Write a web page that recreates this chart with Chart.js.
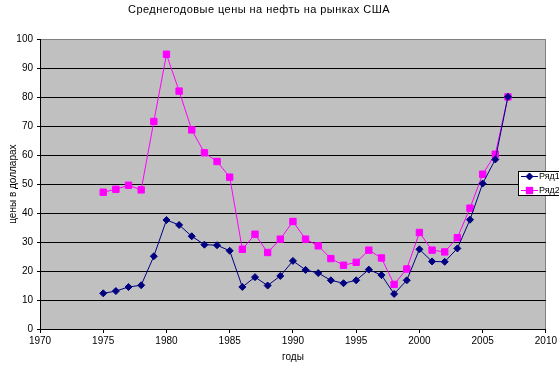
<!DOCTYPE html>
<html lang="ru">
<head>
    <meta charset="UTF-8">
    <title>Среднегодовые цены на нефть</title>
    <script src="https://cdn.jsdelivr.net/npm/chart.js"></script>
    <style>
        body { margin: 0; background: #fff; }
    </style>
</head>
<body>
<canvas id="oilChart" width="559" height="365"></canvas>

<script>
    const years = [1975, 1976, 1977, 1978, 1979, 1980, 1981, 1982, 1983, 1984, 1985,
                   1986, 1987, 1988, 1989, 1990, 1991, 1992, 1993, 1994, 1995, 1996,
                   1997, 1998, 1999, 2000, 2001, 2002, 2003, 2004, 2005, 2006, 2007];
    const ryad1 = [12.3, 13.1, 14.5, 15.1, 25.1, 37.6, 35.9, 32.0, 29.1, 28.9, 27.0,
                   14.5, 17.9, 15.0, 18.3, 23.5, 20.4, 19.3, 16.8, 15.8, 16.8, 20.5,
                   18.6, 12.1, 16.8, 27.5, 23.3, 23.2, 27.8, 37.7, 50.2, 58.5, 80.1];
    const ryad2 = [47.2, 48.2, 49.6, 48.0, 71.6, 94.8, 82.1, 68.7, 60.8, 57.8, 52.4,
                   27.5, 32.7, 26.4, 31.0, 37.1, 31.0, 28.7, 24.3, 22.0, 23.0, 27.2,
                   24.5, 15.4, 20.7, 33.3, 27.2, 26.6, 31.5, 41.7, 53.4, 60.3, 80.1];
    const seriesNames = ['Ряд1', 'Ряд2'];
    const chartTitle = 'Среднегодовые цены на нефть на рынках США';

    const FONT = "'Liberation Sans', Arial, sans-serif";

    // серый фон области построения + рамка сверху и справа
    const plotBackground = {
        id: 'plotBackground',
        beforeDraw(chart) {
            const { ctx, chartArea: a } = chart;
            ctx.save();
            ctx.fillStyle = '#c0c0c0';
            ctx.fillRect(a.left, a.top, a.right - a.left, a.bottom - a.top);
            ctx.strokeStyle = '#808080';
            ctx.lineWidth = 1;
            ctx.beginPath();
            ctx.moveTo(a.left, Math.round(a.top) + 0.5);
            ctx.lineTo(Math.round(a.right) - 0.5, Math.round(a.top) + 0.5);
            ctx.lineTo(Math.round(a.right) - 0.5, a.bottom);
            ctx.stroke();
            ctx.restore();
        }
    };

    // заголовок сдвинут левее центра и чуть разрежен, как в Excel
    const titleShift = {
        id: 'titleShift',
        afterLayout(chart) {
            const tb = chart.titleBlock;
            if (!tb) return;
            tb.left = 0;
            tb.right = 518;
            if (!tb._spaced) {
                const draw = tb.draw;
                tb.draw = function () {
                    this.ctx.save();
                    this.ctx.letterSpacing = '0.45px';
                    draw.call(this);
                    this.ctx.restore();
                };
                tb._spaced = true;
            }
        }
    };

    // легенда поверх правого края области построения
    const boxLegend = {
        id: 'boxLegend',
        afterDraw(chart) {
            const ctx = chart.ctx;
            const x = 518, y = 171, w = 45, h = 24;
            ctx.save();
            ctx.fillStyle = '#fff';
            ctx.fillRect(x, y, w, h);
            ctx.strokeStyle = '#000';
            ctx.lineWidth = 1;
            ctx.strokeRect(x + 0.5, y + 0.5, w, h);
            ctx.font = '9px ' + FONT;
            ctx.textBaseline = 'middle';
            chart.data.datasets.forEach((ds, i) => {
                const cy = y + 5 + i * 14;
                ctx.strokeStyle = ds.borderColor;
                ctx.beginPath();
                ctx.moveTo(x + 3, cy + 0.5);
                ctx.lineTo(x + 20, cy + 0.5);
                ctx.stroke();
                Chart.helpers.drawPoint(ctx, {
                    pointStyle: ds.pointStyle,
                    radius: ds.pointRadius,
                    borderWidth: 1
                }, x + 11.5, cy + 0.5);
                ctx.fillStyle = ds.borderColor;
                ctx.fill();
                ctx.fillStyle = '#000';
                ctx.fillText(ds.label, x + 21, cy + 1);
            });
            ctx.restore();
        }
    };

    const ctx = document.getElementById('oilChart').getContext('2d');
    new Chart(ctx, {
        type: 'line',
        data: {
            datasets: [{
                label: seriesNames[0],
                data: years.map((yr, i) => ({ x: yr, y: ryad1[i] })),
                borderColor: '#000080',
                backgroundColor: '#000080',
                borderWidth: 1,
                pointStyle: 'rectRot',
                pointRadius: 3.5,
                pointBorderWidth: 1,
                tension: 0
            }, {
                label: seriesNames[1],
                data: years.map((yr, i) => ({ x: yr, y: ryad2[i] })),
                borderColor: '#ff00ff',
                backgroundColor: '#ff00ff',
                borderWidth: 1,
                pointStyle: 'rect',
                pointRadius: 4.5,
                pointBorderWidth: 1,
                tension: 0
            }]
        },
        options: {
            responsive: false,
            animation: false,
            layout: { padding: { left: 0, right: 13, top: 0, bottom: 0 } },
            plugins: {
                legend: { display: false },
                tooltip: { enabled: false },
                title: {
                    display: true,
                    text: chartTitle,
                    color: '#000',
                    font: { family: FONT, size: 11, weight: 'normal', lineHeight: 1.2 },
                    padding: { top: 3, bottom: 23 }
                }
            },
            scales: {
                x: {
                    type: 'linear',
                    min: 1970,
                    max: 2010,
                    afterFit: (scale) => { scale.height = 36; },
                    ticks: {
                        stepSize: 5,
                        color: '#000',
                        padding: 2,
                        maxRotation: 0,
                        font: { family: FONT, size: 10 },
                        callback: (v) => String(v)
                    },
                    grid: {
                        drawOnChartArea: false,
                        drawTicks: true,
                        tickLength: 4,
                        tickColor: '#000'
                    },
                    border: { color: '#000', width: 1 },
                    title: {
                        display: true,
                        text: 'годы',
                        color: '#000',
                        font: { family: FONT, size: 10, lineHeight: 1.2 },
                        padding: { top: 0, bottom: 2 }
                    }
                },
                y: {
                    min: 0,
                    max: 100,
                    afterFit: (scale) => { scale.width = 40; },
                    ticks: {
                        stepSize: 10,
                        color: '#000',
                        padding: 4,
                        font: { family: FONT, size: 10 }
                    },
                    grid: {
                        color: (c) => c.tick && c.tick.value === 100 ? '#808080' : '#000',
                        tickColor: '#000',
                        tickLength: 3,
                        lineWidth: 1
                    },
                    border: { color: '#000', width: 1 },
                    title: {
                        display: true,
                        text: 'цены в долларах',
                        color: '#000',
                        font: { family: FONT, size: 10, lineHeight: 1.2 },
                        padding: { top: 7, bottom: 0 }
                    }
                }
            }
        },
        plugins: [plotBackground, titleShift, boxLegend]
    });
</script>
</body>
</html>
